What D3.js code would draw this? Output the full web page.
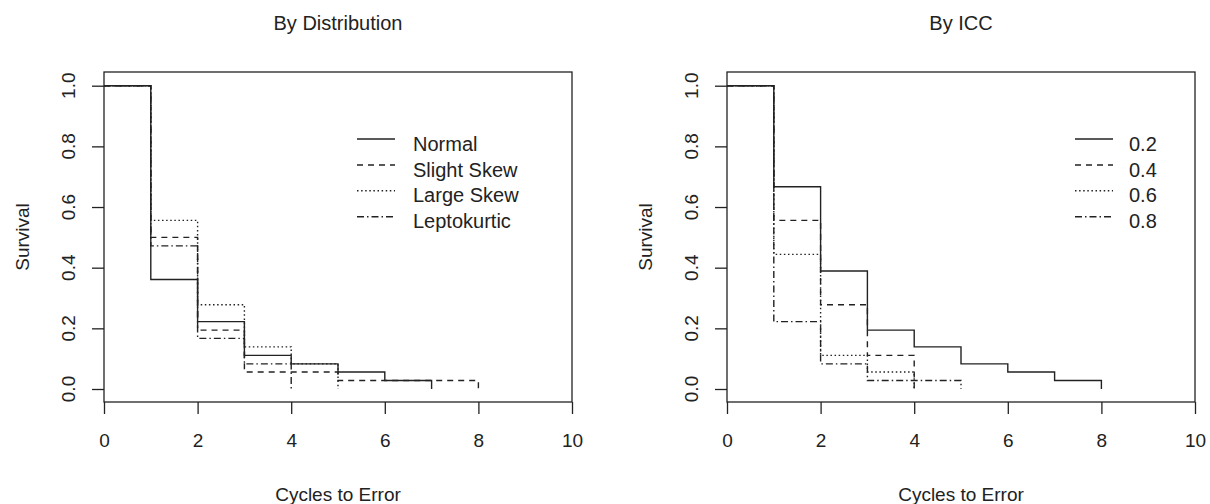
<!DOCTYPE html>
<html>
<head>
<meta charset="utf-8">
<script src="https://cdn.jsdelivr.net/npm/d3@7"></script>
<style>
  html, body { margin: 0; padding: 0; background: #fff; }
  svg text { font-family: "Liberation Sans", Arial, sans-serif; fill: #222; }
</style>
</head>
<body>
<svg id="chart" width="1210" height="504"></svg>
<script>
// ---- data ----
const timePoints = [0, 1, 2, 3, 4, 5, 6, 7, 8];
const xTicks = [0, 2, 4, 6, 8, 10];
const yTicks = [0, 0.2, 0.4, 0.6, 0.8, 1.0];
const yTickLabels = ["0.0", "0.2", "0.4", "0.6", "0.8", "1.0"];

const distNames = ["Normal", "Slight Skew", "Large Skew", "Leptokurtic"];
const distNormal = [1, 0.361, 0.222, 0.111, 0.083, 0.056, 0.028, 0];
const distSlight = [1, 0.500, 0.194, 0.056, 0.056, 0.028, 0.028, 0.028, 0];
const distLarge  = [1, 0.556, 0.278, 0.139, 0.083, 0];
const distLepto  = [1, 0.472, 0.167, 0.083, 0];

const iccNames = ["0.2", "0.4", "0.6", "0.8"];
const icc02 = [1, 0.667, 0.389, 0.194, 0.139, 0.083, 0.056, 0.028, 0];
const icc04 = [1, 0.556, 0.278, 0.111, 0];
const icc06 = [1, 0.444, 0.111, 0.056, 0];
const icc08 = [1, 0.222, 0.083, 0.028, 0.028, 0];

const panelTitles = ["By Distribution", "By ICC"];
const xLabel = "Cycles to Error";
const yLabel = "Survival";

// ---- styles ----
const dashes = [null, "6,5", "1.5,2.6", "7,3,1.5,3"];
const ink = "#222";

const svg = d3.select("#chart");

function panel(cfg) {
  const g = svg.append("g");
  const x = d3.scaleLinear().domain([0, 10]).range([cfg.x0, cfg.x1]);
  const y = d3.scaleLinear().domain([0, 1]).range([389, 85.7]);
  const top = 72, bottom = 402;

  // box
  g.append("rect").attr("x", cfg.x0).attr("y", top)
    .attr("width", cfg.x1 - cfg.x0).attr("height", bottom - top)
    .attr("fill", "none").attr("stroke", ink).attr("stroke-width", 1.3);

  // x axis
  const xa = g.append("g").attr("transform", `translate(0,${bottom})`)
    .call(d3.axisBottom(x).tickValues(xTicks).tickSize(12).tickSizeOuter(0).tickPadding(20).tickFormat(d3.format("d")));
  xa.select(".domain").remove();
  xa.selectAll("line").attr("stroke", ink).attr("stroke-width", 1.3);
  xa.selectAll("text").attr("font-size", 19).attr("fill", ink)
    .style("font-family", '"Liberation Sans", Arial, sans-serif');

  // y axis ticks
  const ya = g.append("g").attr("transform", `translate(${cfg.x0},0)`)
    .call(d3.axisLeft(y).tickValues(yTicks).tickSize(12).tickSizeOuter(0).tickFormat(""));
  ya.select(".domain").remove();
  ya.selectAll("line").attr("stroke", ink).attr("stroke-width", 1.3);
  ya.selectAll("text").remove();
  g.selectAll(".ylab").data(yTicks).enter().append("text")
    .attr("transform", (d) => `translate(${cfg.x0 - 36},${y(d)}) rotate(-90)`)
    .attr("dy", "0.35em").attr("text-anchor", "middle").attr("font-size", 19)
    .text((d, i) => yTickLabels[i]);

  // titles / labels
  const cx = (cfg.x0 + cfg.x1) / 2;
  g.append("text").attr("x", cx).attr("y", 30).attr("text-anchor", "middle")
    .attr("font-size", 20).text(cfg.title);
  g.append("text").attr("x", cx).attr("y", 501).attr("text-anchor", "middle")
    .attr("font-size", 19).text(xLabel);
  g.append("text").attr("transform", `translate(${cfg.x0 - 82},${(top + bottom) / 2}) rotate(-90)`)
    .attr("dy", "0.35em").attr("text-anchor", "middle").attr("font-size", 19).text(yLabel);

  // survival curves
  const line = d3.line().x((d) => x(d[0])).y((d) => y(d[1])).curve(d3.curveStepAfter);
  cfg.series.forEach((s, i) => {
    const pts = s.map((v, k) => [timePoints[k], v]);
    g.append("path").attr("d", line(pts)).attr("fill", "none")
      .attr("stroke", ink).attr("stroke-width", 1.4)
      .attr("stroke-dasharray", dashes[i]);
  });

  // legend
  const rowY = [139, 165, 190.7, 216.7];
  cfg.names.forEach((nm, i) => {
    g.append("line").attr("x1", cfg.lx0).attr("x2", cfg.lx1)
      .attr("y1", rowY[i]).attr("y2", rowY[i])
      .attr("stroke", ink).attr("stroke-width", 1.4).attr("stroke-dasharray", dashes[i]);
    g.append("text").attr("x", cfg.tx).attr("y", rowY[i] + 11.5)
      .attr("font-size", 20).text(nm);
  });
}

panel({ x0: 104, x1: 572, title: panelTitles[0], names: distNames,
        series: [distNormal, distSlight, distLarge, distLepto],
        lx0: 357, lx1: 395, tx: 413 });
panel({ x0: 727, x1: 1195, title: panelTitles[1], names: iccNames,
        series: [icc02, icc04, icc06, icc08],
        lx0: 1075, lx1: 1113, tx: 1129 });
</script>
</body>
</html>
